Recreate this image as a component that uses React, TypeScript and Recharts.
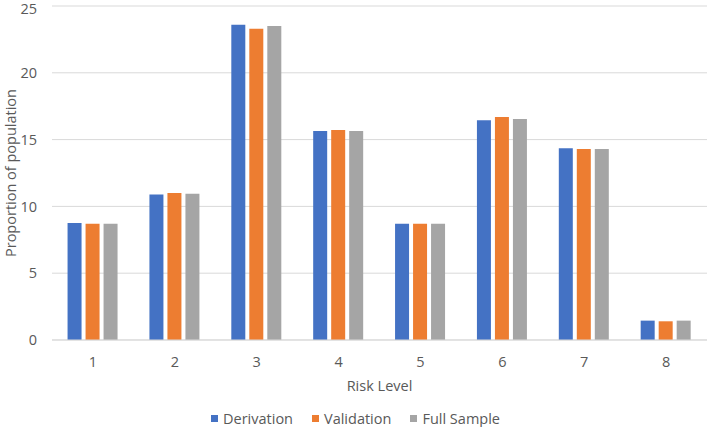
import React from 'react';
import { BarChart, Bar, XAxis, YAxis, CartesianGrid } from 'recharts';

const categories = ['1', '2', '3', '4', '5', '6', '7', '8'];
const derivation = [8.75, 10.9, 23.6, 15.65, 8.7, 16.45, 14.35, 1.45];
const validation = [8.7, 11.0, 23.3, 15.72, 8.7, 16.7, 14.3, 1.4];
const fullSample = [8.7, 10.95, 23.5, 15.65, 8.7, 16.55, 14.3, 1.45];
const yTicks = [0, 5, 10, 15, 20, 25];
const seriesNames = ['Derivation', 'Validation', 'Full Sample'];
const seriesColors = ['#4472C4', '#ED7D31', '#A5A5A5'];

const data = categories.map((c, i) => ({
  level: c,
  Derivation: derivation[i],
  Validation: validation[i],
  'Full Sample': fullSample[i],
}));

const FONT = "'Open Sans', sans-serif";
const TXT = '#595959';
const FS = 14.5;

const YLabel = (props: any) => {
  const vb = props.viewBox || {};
  const cy = (vb.y || 0) + (vb.height || 0) / 2;
  const cx = 10;
  return (
    <text x={cx} y={cy} transform={`rotate(-90 ${cx} ${cy})`} textAnchor="middle" dominantBaseline="central" fill={TXT} fontSize={FS} fontFamily={FONT}>
      Proportion of population
    </text>
  );
};

export default function App() {
  return (
    <div style={{ position: 'absolute', left: 0, top: 0, width: 709, height: 427, background: '#fff' }}>
      <BarChart
        width={709}
        height={427}
        data={data}
        margin={{ top: 6, right: 2, left: 0, bottom: 0 }}
        barGap={4}
        barCategoryGap="19%"
        style={{ fontFamily: FONT }}
      >
        <CartesianGrid vertical={false} stroke="#d9d9d9" strokeWidth={1} />
        <XAxis
          dataKey="level"
          tickLine={false}
          axisLine={{ stroke: '#d9d9d9' }}
          tick={{ fill: TXT, fontSize: FS, fontFamily: FONT }}
          tickMargin={11}
          height={87}
          label={{ value: 'Risk Level', position: 'insideTop', offset: 41, fill: TXT, fontSize: FS, fontFamily: FONT }}
        />
        <YAxis
          domain={[0, 25]}
          ticks={yTicks}
          width={52}
          tickLine={false}
          axisLine={false}
          tick={{ fill: TXT, fontSize: FS, fontFamily: FONT }}
          tickMargin={9}
          label={<YLabel />}
        />
        {seriesNames.map((name, i) => (
          <Bar key={name} dataKey={name} fill={seriesColors[i]} isAnimationActive={false} />
        ))}
      </BarChart>
      <div
        style={{
          position: 'absolute',
          left: 0,
          width: 709,
          top: 407,
          height: 22,
          display: 'flex',
          justifyContent: 'center',
          alignItems: 'center',
          fontFamily: FONT,
          fontSize: FS,
          color: TXT,
          paddingLeft: 1,
        }}
      >
        {seriesNames.map((name, i) => (
          <div key={name} style={{ display: 'flex', alignItems: 'center', marginRight: i < seriesNames.length - 1 ? 19 : 0 }}>
            <span style={{ display: 'inline-block', width: 7, height: 7, background: seriesColors[i], marginRight: 5 }} />
            <span>{name}</span>
          </div>
        ))}
      </div>
    </div>
  );
}
